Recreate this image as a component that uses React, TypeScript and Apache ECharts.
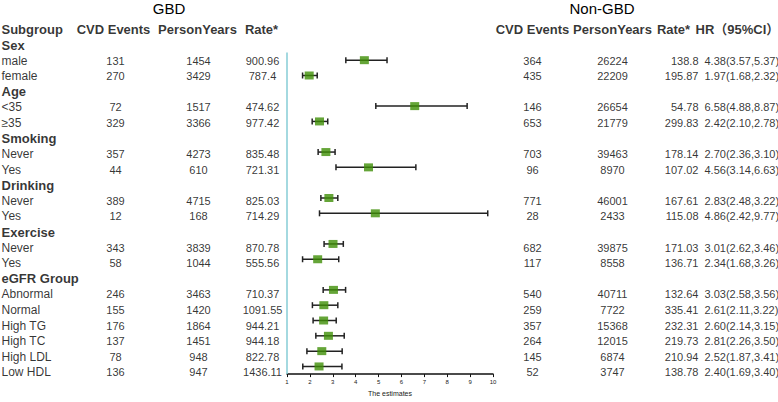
import React, { useEffect, useRef } from 'react';
import * as echarts from 'echarts';

// ---- data ----
const subgroups = ['Sex', 'male', 'female', 'Age', '<35', '≥35', 'Smoking', 'Never', 'Yes', 'Drinking', 'Never', 'Yes', 'Exercise', 'Never', 'Yes', 'eGFR Group', 'Abnormal', 'Normal', 'High TG', 'High TC', 'High LDL', 'Low HDL'];
const gbdEvents = [null, 131, 270, null, 72, 329, null, 357, 44, null, 389, 12, null, 343, 58, null, 246, 155, 176, 137, 78, 136];
const gbdPersonYears = [null, 1454, 3429, null, 1517, 3366, null, 4273, 610, null, 4715, 168, null, 3839, 1044, null, 3463, 1420, 1864, 1451, 948, 947];
const gbdRate = [null, '900.96', '787.4', null, '474.62', '977.42', null, '835.48', '721.31', null, '825.03', '714.29', null, '870.78', '555.56', null, '710.37', '1091.55', '944.21', '944.18', '822.78', '1436.11'];
const nonEvents = [null, 364, 435, null, 146, 653, null, 703, 96, null, 771, 28, null, 682, 117, null, 540, 259, 357, 264, 145, 52];
const nonPersonYears = [null, 26224, 22209, null, 26654, 21779, null, 39463, 8970, null, 46001, 2433, null, 39875, 8558, null, 40711, 7722, 15368, 12015, 6874, 3747];
const nonRate = [null, '138.8', '195.87', null, '54.78', '299.83', null, '178.14', '107.02', null, '167.61', '115.08', null, '171.03', '136.71', null, '132.64', '335.41', '232.31', '219.73', '210.94', '138.78'];
const hr = [null, 4.38, 1.97, null, 6.58, 2.42, null, 2.70, 4.56, null, 2.83, 4.86, null, 3.01, 2.34, null, 3.03, 2.61, 2.60, 2.81, 2.52, 2.40];
const hrLow = [null, 3.57, 1.68, null, 4.88, 2.10, null, 2.36, 3.14, null, 2.48, 2.42, null, 2.62, 1.68, null, 2.58, 2.11, 2.14, 2.26, 1.87, 1.69];
const hrHigh = [null, 5.37, 2.32, null, 8.87, 2.78, null, 3.10, 6.63, null, 3.22, 9.77, null, 3.46, 3.26, null, 3.56, 3.22, 3.15, 3.50, 3.41, 3.40];
const headers = ['Subgroup', 'CVD Events', 'PersonYears', 'Rate*', 'CVD Events', 'PersonYears', 'Rate*', 'HR（95%CI）'];
const xTicks = [1, 10, 1]; // min, max, interval
const xName = 'The estimates';
const titles = ['GBD', 'Non-GBD'];

// ---- layout ----
const W = 778;
const H = 402;
const ROW_H = 15.58;
const FIRST_ROW_Y = 45;
const HEADER_Y = 30;
const FONT = '"Liberation Sans", Arial, "Noto Sans CJK SC", sans-serif';

const colX = { sub: 2, ge: 116, gp: 199, gr: 263, ne: 533, np: 613, nr: 699, hr: 705 };
const headX = [2, 114, 198, 262, 533, 613, 674, 696];
const headAlign = ['left', 'center', 'center', 'center', 'center', 'center', 'center', 'left'];

const fmt2 = (v: number) => v.toFixed(2);

export default function App() {
  const ref = useRef<HTMLDivElement>(null);
  useEffect(() => {
    document.body.style.margin = '0';
    if (!ref.current) return;
    const chart = echarts.init(ref.current, null, { renderer: 'svg' });

    const nRows = subgroups.length;
    const textCol = (x: number, align: string, vals: any[], fontSize: number, sectionBold = false) => ({
      type: 'scatter',
      xAxisIndex: 1,
      yAxisIndex: 1,
      symbol: 'circle',
      symbolSize: 1,
      itemStyle: { color: 'transparent' },
      silent: true,
      clip: false,
      z: 5,
      label: {
        show: true,
        position: [0, 0],
        align,
        verticalAlign: 'middle',
        formatter: '{b}',
        color: '#000',
        fontFamily: FONT,
        fontSize,
      },
      data: vals
        .map((v, i) => {
          if (v === null || v === undefined) return null;
          const bold = sectionBold && gbdEvents[i] === null;
          return {
            name: String(v),
            value: [x, i],
            label: bold ? { fontWeight: 'bold', fontSize: 13 } : undefined,
          };
        })
        .filter((d) => d !== null),
    });

    const headerSeries = {
      type: 'scatter',
      xAxisIndex: 1,
      yAxisIndex: 1,
      symbolSize: 1,
      itemStyle: { color: 'transparent' },
      silent: true,
      clip: false,
      label: {
        show: true,
        position: [0, 0],
        verticalAlign: 'middle',
        formatter: '{b}',
        color: '#000',
        fontFamily: FONT,
        fontSize: 13,
        fontWeight: 'bold',
      },
      data: headers.map((h, i) => ({ name: h, value: [headX[i], -1], label: { align: headAlign[i] } })),
    };

    const hrText = hr.map((v, i) => (v === null ? null : `${fmt2(v)}(${fmt2(hrLow[i] as number)},${fmt2(hrHigh[i] as number)})`));

    const ciData = hr
      .map((v, i) => (v === null ? null : [hrLow[i], hrHigh[i], i]))
      .filter((d) => d !== null);
    const ptData = hr.map((v, i) => (v === null ? null : [v, i])).filter((d) => d !== null);

    const option: any = {
      animation: false,
      textStyle: { fontFamily: FONT },
      graphic: [
        { type: 'text', x: 169, y: 8, style: { text: titles[0], align: 'center', verticalAlign: 'middle', fontSize: 15, fontFamily: FONT, fill: '#000' } },
        { type: 'text', x: 602, y: 8, style: { text: titles[1], align: 'center', verticalAlign: 'middle', fontSize: 15, fontFamily: FONT, fill: '#000' } },
      ],
      grid: [
        { left: 287, width: 206, top: FIRST_ROW_Y - ROW_H / 2, height: nRows * ROW_H, containLabel: false },
        { left: 0, width: W, top: HEADER_Y - ROW_H / 2, height: (nRows + 1) * ROW_H, containLabel: false },
      ],
      xAxis: [
        {
          type: 'value',
          gridIndex: 0,
          position: 'bottom',
          min: xTicks[0],
          max: xTicks[1],
          interval: xTicks[2],
          name: xName,
          nameLocation: 'middle',
          nameGap: 14,
          nameTextStyle: { fontSize: 7, color: '#222', fontFamily: FONT },
          axisLine: { show: true, onZero: false, lineStyle: { color: '#111', width: 1.5 } },
          axisTick: { show: true, inside: false, length: 3, lineStyle: { color: '#111', width: 1 } },
          axisLabel: { fontSize: 6, color: '#222', margin: 5, fontFamily: FONT },
          splitLine: { show: false },
        },
        { type: 'value', gridIndex: 1, min: 0, max: W, show: false },
      ],
      yAxis: [
        { type: 'value', gridIndex: 0, min: -0.5, max: nRows - 0.5, inverse: true, show: false },
        { type: 'value', gridIndex: 1, min: -1.5, max: nRows - 0.5, inverse: true, show: false },
      ],
      series: [
        {
          type: 'custom',
          xAxisIndex: 0,
          yAxisIndex: 0,
          silent: true,
          z: 2,
          renderItem: (params: any, api: any) => {
            const a = api.coord([api.value(0), api.value(2)]);
            const b = api.coord([api.value(1), api.value(2)]);
            const cap = 3;
            const style = { stroke: '#222', lineWidth: 1.5 };
            return {
              type: 'group',
              children: [
                { type: 'line', shape: { x1: a[0], y1: a[1], x2: b[0], y2: b[1] }, style },
                { type: 'line', shape: { x1: a[0], y1: a[1] - cap, x2: a[0], y2: a[1] + cap }, style },
                { type: 'line', shape: { x1: b[0], y1: b[1] - cap, x2: b[0], y2: b[1] + cap }, style },
              ],
            };
          },
          data: ciData,
        },
        {
          type: 'scatter',
          xAxisIndex: 0,
          yAxisIndex: 0,
          symbol: 'rect',
          symbolSize: [9, 8],
          itemStyle: { color: '#3f8f06' },
          z: 3,
          silent: true,
          data: ptData,
          markLine: {
            silent: true,
            symbol: ['none', 'none'],
            label: { show: false },
            lineStyle: { color: '#86cdd6', width: 1.5, type: 'solid' },
            data: [[{ coord: [xTicks[0], 0.5] }, { coord: [xTicks[0], nRows - 0.5] }]],
          },
        },
        headerSeries,
        textCol(colX.sub, 'left', subgroups, 12, true),
        textCol(colX.ge, 'center', gbdEvents, 11),
        textCol(colX.gp, 'center', gbdPersonYears, 11),
        textCol(colX.gr, 'center', gbdRate, 11),
        textCol(colX.ne, 'center', nonEvents, 11),
        textCol(colX.np, 'center', nonPersonYears, 11),
        textCol(colX.nr, 'right', nonRate, 11),
        textCol(colX.hr, 'left', hrText, 11),
      ],
    };
    chart.setOption(option);
    return () => chart.dispose();
  }, []);
  return <div ref={ref} style={{ width: W, height: H }} />;
}
